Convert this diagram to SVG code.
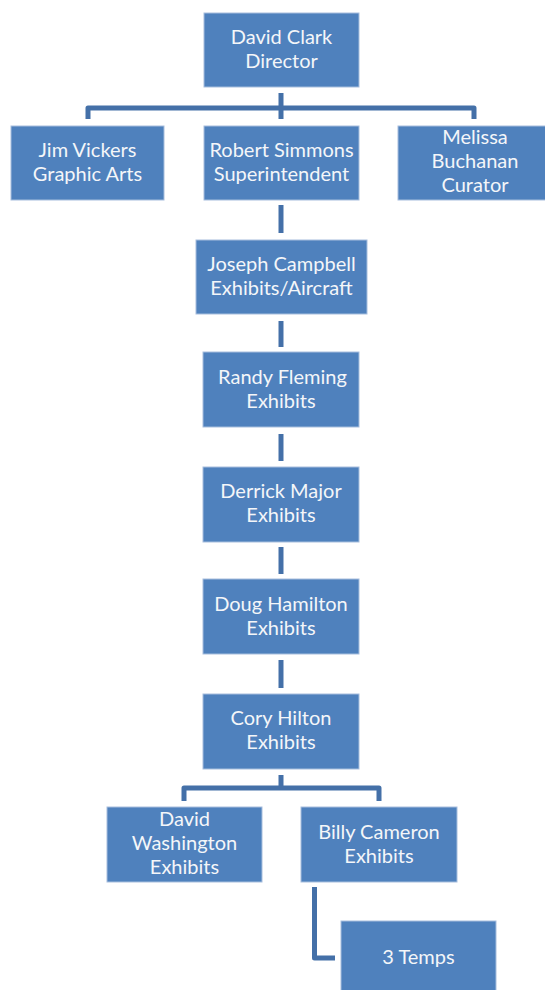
<svg xmlns="http://www.w3.org/2000/svg" width="545" height="990" viewBox="0 0 545 990">
<style>
.box{fill:#4F81BD;stroke:#A7BEDD;stroke-width:1}
.t{font-family:Lato,"Open Sans","Liberation Sans",sans-serif;font-size:20px;fill:#F4F6F9;text-anchor:middle}
.c{fill:none;stroke:#4470A8;stroke-width:5;stroke-linejoin:round}
</style>
<rect width="545" height="990" fill="#FFFFFF"/>
<g id="connectors">
<path class="c" d="M281,93 V119 M88,119 V108 H474 V119"/>
<path class="c" d="M281,205 V233"/>
<path class="c" d="M281,321 V347"/>
<path class="c" d="M281,434 V461"/>
<path class="c" d="M281,547 V574"/>
<path class="c" d="M281,660 V688"/>
<path class="c" d="M281,775 V788 M184,801 V788 H379 V801"/>
<path class="c" d="M314.5,887 V958 H335"/>
</g>
<g id="david-clark"><rect class="box" x="204" y="13" width="155" height="74"/><text class="t" x="281.5" y="44">David Clark</text><text class="t" x="281.5" y="68">Director</text></g>
<g id="jim-vickers"><rect class="box" x="11" y="126" width="153" height="74"/><text class="t" x="87.5" y="157">Jim Vickers</text><text class="t" x="87.5" y="181">Graphic Arts</text></g>
<g id="robert-simmons"><rect class="box" x="204" y="126" width="155" height="74"/><text class="t" x="281.5" y="157">Robert Simmons</text><text class="t" x="281.5" y="181">Superintendent</text></g>
<g id="melissa-buchanan"><rect class="box" x="398" y="126" width="154" height="74"/><text class="t" x="475" y="144">Melissa</text><text class="t" x="475" y="168">Buchanan</text><text class="t" x="475" y="192">Curator</text></g>
<g id="joseph-campbell"><rect class="box" x="196" y="240" width="171" height="74"/><text class="t" x="281.5" y="271">Joseph Campbell</text><text class="t" x="281.5" y="295">Exhibits/Aircraft</text></g>
<g id="randy-fleming"><rect class="box" x="203" y="352" width="156" height="75"/><text class="t" x="282.5" y="384"> Randy Fleming</text><text class="t" x="281" y="408">Exhibits</text></g>
<g id="derrick-major"><rect class="box" x="203" y="467" width="156" height="75"/><text class="t" x="281" y="498">Derrick Major</text><text class="t" x="281" y="522">Exhibits</text></g>
<g id="doug-hamilton"><rect class="box" x="203" y="579" width="156" height="75"/><text class="t" x="281" y="611">Doug Hamilton</text><text class="t" x="281" y="635">Exhibits</text></g>
<g id="cory-hilton"><rect class="box" x="203" y="694" width="156" height="75"/><text class="t" x="281" y="725">Cory Hilton</text><text class="t" x="281" y="749">Exhibits</text></g>
<g id="david-washington"><rect class="box" x="107" y="807" width="155" height="75"/><text class="t" x="184.5" y="826">David</text><text class="t" x="184.5" y="850">Washington</text><text class="t" x="184.5" y="874">Exhibits</text></g>
<g id="billy-cameron"><rect class="box" x="301" y="807" width="156" height="75"/><text class="t" x="379" y="839">Billy Cameron</text><text class="t" x="379" y="863">Exhibits</text></g>
<g id="three-temps"><rect class="box" x="341" y="921" width="155" height="75"/><text class="t" x="418.5" y="964">3 Temps</text></g>
</svg>
